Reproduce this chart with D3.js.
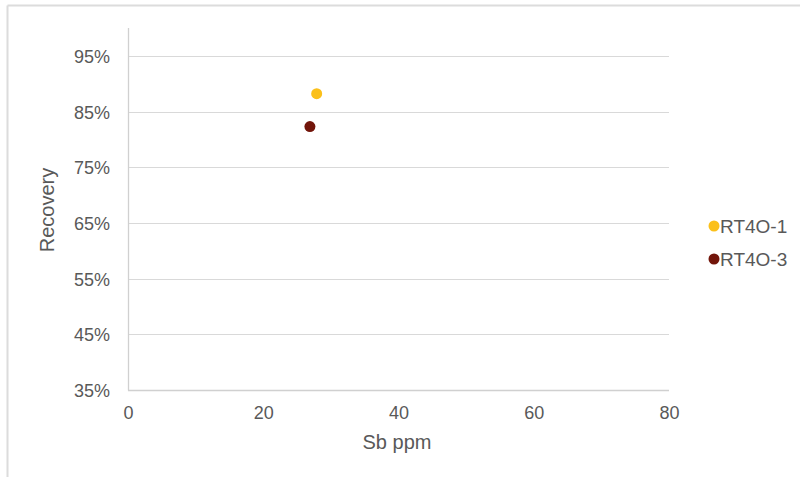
<!DOCTYPE html>
<html><head><meta charset="utf-8">
<script src="https://cdn.jsdelivr.net/npm/d3@7"></script>
<style>
body{margin:0;background:#fff;}
text{font-family:"Liberation Sans",Arial,sans-serif;}
</style></head>
<body><svg id="c" width="800" height="477"></svg>
<script>
const seriesNames = ["RT4O-1", "RT4O-3"];
const seriesColors = ["#FBC01A", "#72150A"];
const sbPpm = [27.9, 26.9];
const recovery = [0.882, 0.823];
const yTicks = [0.35, 0.45, 0.55, 0.65, 0.75, 0.85, 0.95];
const xTicks = [0, 20, 40, 60, 80];

const svg = d3.select("#c");
// outer frame (top and left edges visible)
svg.append("line").attr("x1",7.5).attr("x2",800).attr("y1",5.5).attr("y2",5.5).attr("stroke","#dcdcdc").attr("stroke-width",2);
svg.append("line").attr("x1",7.5).attr("x2",7.5).attr("y1",5.5).attr("y2",477).attr("stroke","#dcdcdc").attr("stroke-width",2);

const x = d3.scaleLinear().domain([0,80]).range([128,669]);
const y = d3.scaleLinear().domain([0.35,1.0]).range([390,28]);
const grey = "#595959";

// gridlines
svg.append("g").selectAll("line").data(yTicks.slice(1)).join("line")
  .attr("x1",x(0)).attr("x2",x(80)).attr("y1",d=>Math.round(y(d))+0.5).attr("y2",d=>Math.round(y(d))+0.5)
  .attr("stroke","#d9d9d9").attr("stroke-width",1);

// x axis line
svg.append("line").attr("x1",x(0)).attr("x2",x(80)).attr("y1",390.5).attr("y2",390.5).attr("stroke","#d0d0d0").attr("stroke-width",1.3);
// y axis line
svg.append("line").attr("x1",128.5).attr("x2",128.5).attr("y1",y(1.0)).attr("y2",390.5).attr("stroke","#d0d0d0").attr("stroke-width",1.3);

// y tick labels
const yAxis = d3.axisLeft(y).tickValues(yTicks).tickFormat(d3.format(".0%")).tickSize(0).tickPadding(18);
const gy = svg.append("g").attr("transform","translate(128,0)").call(yAxis);
gy.select(".domain").remove();
gy.selectAll("text").attr("font-size",18).attr("fill",grey).attr("font-family","Liberation Sans, Arial, sans-serif").attr("dy","0.36em");

// x tick labels
const xAxis = d3.axisBottom(x).tickValues(xTicks).tickFormat(d3.format("d")).tickSize(0).tickPadding(16);
const gx = svg.append("g").attr("transform","translate(0,390)").call(xAxis);
gx.select(".domain").remove();
gx.selectAll("text").attr("font-size",18).attr("fill",grey).attr("font-family","Liberation Sans, Arial, sans-serif");

// axis titles
svg.append("text").attr("x",397).attr("y",449).attr("text-anchor","middle").attr("font-size",20).attr("fill",grey).text("Sb ppm");
svg.append("text").attr("transform","translate(54,210) rotate(-90)").attr("text-anchor","middle").attr("font-size",20).attr("fill",grey).text("Recovery");

// points
svg.append("g").selectAll("circle").data(d3.range(seriesNames.length)).join("circle")
  .attr("cx",i=>x(sbPpm[i])).attr("cy",i=>y(recovery[i])).attr("r",5.5).attr("fill",i=>seriesColors[i]);

// legend
const lg = svg.append("g").selectAll("g").data(d3.range(seriesNames.length)).join("g")
  .attr("transform",i=>`translate(714,${226+i*33})`);
lg.append("circle").attr("r",5.5).attr("fill",i=>seriesColors[i]);
lg.append("text").attr("x",6).attr("dy","0.36em").attr("font-size",19).attr("fill",grey).text(i=>seriesNames[i]);
</script></body></html>
